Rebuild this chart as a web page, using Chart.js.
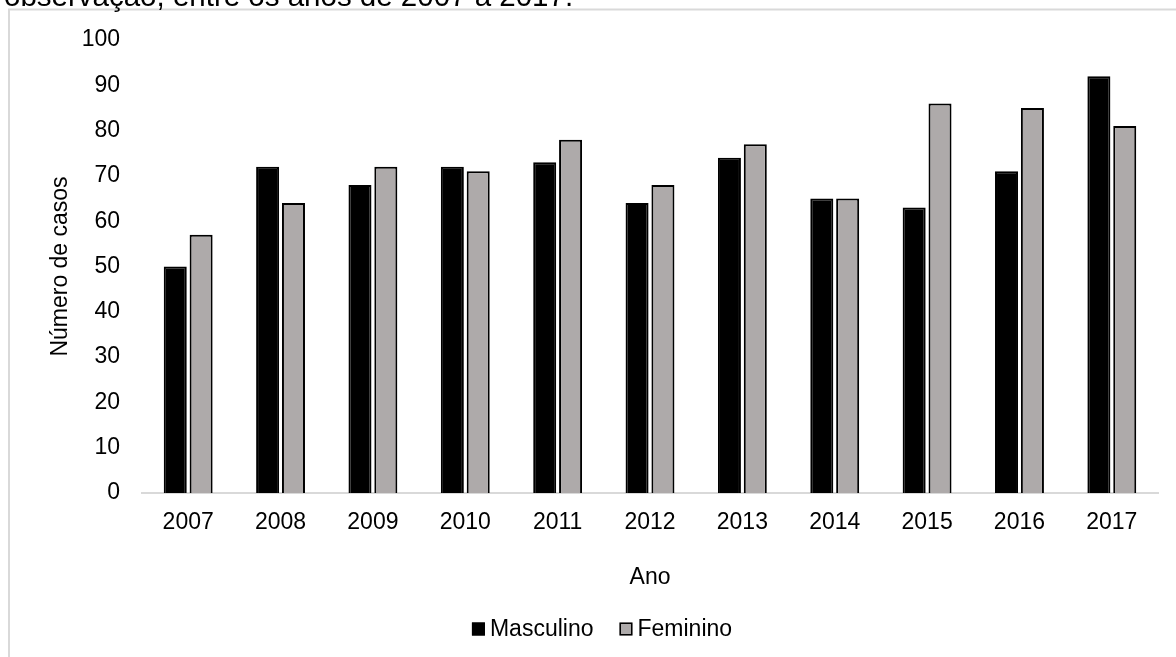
<!DOCTYPE html>
<html>
<head>
<meta charset="utf-8">
<style>
  html, body { margin: 0; padding: 0; background: #fff; overflow: hidden; }
  #wrap { position: absolute; left: 0; top: 0; width: 1176px; height: 657px; }
</style>
<script src="https://cdn.jsdelivr.net/npm/chart.js@4/dist/chart.umd.min.js"></script>
</head>
<body>
<div id="wrap"><canvas id="c" width="1176" height="657"></canvas></div>
<script>
// Casos por ano e sexo, 2007–2017
const years = ['2007', '2008', '2009', '2010', '2011', '2012', '2013', '2014', '2015', '2016', '2017'];
const masculino = [50, 72, 68, 72, 73, 64, 74, 65, 63, 71, 92];
const feminino = [57, 64, 72, 71, 78, 68, 77, 65, 86, 85, 81];
const seriesNames = ['Masculino', 'Feminino'];
const yTicks = [0, 10, 20, 30, 40, 50, 60, 70, 80, 90, 100];

const FONT = '"Liberation Sans", Arial, sans-serif';
const FS = 23;

// Frame around the chart and the trailing line of the caption above it
const framePlugin = {
  id: 'frame',
  beforeDraw(chart) {
    const ctx = chart.ctx;
    ctx.save();
    ctx.fillStyle = '#ffffff';
    ctx.fillRect(0, 0, chart.width, chart.height);
    ctx.strokeStyle = '#d9d9d9';
    ctx.lineWidth = 2;
    ctx.beginPath();
    ctx.moveTo(9, chart.height + 2);
    ctx.lineTo(9, 9.5);
    ctx.lineTo(chart.width + 2, 9.5);
    ctx.stroke();
    ctx.restore();
  },
  afterDraw(chart) {
    const ctx = chart.ctx;
    ctx.save();
    ctx.fillStyle = '#000';
    ctx.font = '29.5px ' + FONT;
    ctx.textBaseline = 'alphabetic';
    ctx.textAlign = 'left';
    ctx.fillText('observação, entre os anos de 2007 a 2017.', 4, 6);
    ctx.restore();
  }
};

// Legend row under the axis title, built from the datasets
const legendPlugin = {
  id: 'bottomLegend',
  afterDraw(chart) {
    const ctx = chart.ctx;
    const ds = chart.data.datasets;
    const box = 13, gapText = 5, gapItem = 26, cy = 629;
    ctx.save();
    ctx.font = FS + 'px ' + FONT;
    ctx.textBaseline = 'middle';
    let total = 0;
    const widths = ds.map(d => ctx.measureText(d.label).width);
    widths.forEach((w, i) => { total += box + gapText + w + (i < ds.length - 1 ? gapItem : 0); });
    let x = 602 - total / 2;
    ds.forEach((d, i) => {
      ctx.fillStyle = d.backgroundColor;
      ctx.fillRect(x, cy - box / 2, box, box);
      ctx.strokeStyle = '#000';
      ctx.lineWidth = 1.5;
      ctx.strokeRect(x + 0.75, cy - box / 2 + 0.75, box - 1.5, box - 1.5);
      x += box + gapText;
      ctx.fillStyle = '#000';
      ctx.fillText(d.label, x, cy + 1);
      x += widths[i] + gapItem;
    });
    ctx.restore();
  }
};

new Chart(document.getElementById('c'), {
  type: 'bar',
  data: {
    labels: years,
    datasets: [
      { label: seriesNames[0], data: masculino, backgroundColor: '#000000', borderColor: '#000000', borderWidth: 2 },
      { label: seriesNames[1], data: feminino, backgroundColor: '#aeaaaa', borderColor: '#000000', borderWidth: 2 }
    ]
  },
  options: {
    responsive: false,
    animation: false,
    devicePixelRatio: 1,
    layout: { padding: { left: 0, right: 18, top: 40, bottom: 0 } },
    datasets: { bar: { categoryPercentage: 0.56, barPercentage: 0.89 } },
    plugins: { legend: { display: false }, tooltip: { enabled: false } },
    scales: {
      x: {
        grid: { display: false, drawTicks: false },
        border: { display: true, color: '#d9d9d9', width: 2 },
        ticks: { color: '#000', font: { family: FONT, size: FS }, padding: 16 },
        title: { display: true, text: 'Ano', color: '#000', font: { family: FONT, size: FS }, padding: { top: 0, bottom: 66 } },
        afterFit(s) { s.height = 164; }
      },
      y: {
        min: 0, max: 100,
        afterBuildTicks(s) { s.ticks = yTicks.map(v => ({ value: v })); },
        grid: { display: false, drawTicks: false },
        border: { display: false },
        ticks: { color: '#000', font: { family: FONT, size: FS }, padding: 22 },
        title: { display: true, text: 'Número de casos', color: '#000', font: { family: FONT, size: FS }, padding: { top: 47, bottom: 0 } },
        afterFit(s) { s.width = 142; }
      }
    }
  },
  plugins: [framePlugin, legendPlugin]
});
</script>
</body>
</html>
